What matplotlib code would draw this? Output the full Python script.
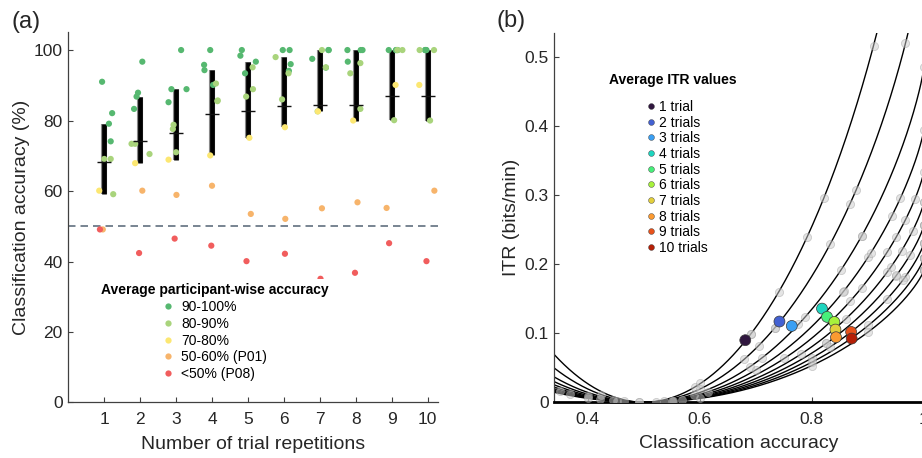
import numpy as np
import matplotlib
matplotlib.use('Agg')
import matplotlib.pyplot as plt
from matplotlib.lines import Line2D

plt.rcParams['font.family'] = ['Liberation Sans', 'DejaVu Sans']

# ---------------- data: panel (a) ----------------
trials = np.arange(1, 11)
group_labels = ['90-100%', '80-90%', '70-80%', '50-60% (P01)', '<50% (P08)']
group_colors = ['#56b870', '#a9d47c', '#fce772', '#f7b46b', '#f15d5d']
# participant order: G1..G4 (90-100), L1..L3 (80-90), Y (70-80), P01, P08
participant_group = [0, 0, 0, 0, 1, 1, 1, 2, 3, 4]

acc_t1 = [91.0, 82.1, 79.1, 74.1, 69.1, 69.1, 59.1, 60.1, 49.1, 49.1]
acc_t2 = [96.7, 87.9, 86.8, 83.3, 73.4, 73.4, 70.5, 67.9, 60.1, 42.4]
acc_t3 = [100, 88.9, 88.9, 85.2, 78.8, 77.6, 71.0, 68.9, 58.9, 46.5]
acc_t4 = [100, 95.8, 94.3, 90.1, 90.5, 85.7, 85.5, 70.1, 61.5, 44.5]
acc_t5 = [100, 98.4, 96.7, 93.4, 95.1, 88.9, 86.8, 75.1, 53.5, 40.1]
acc_t6 = [100, 100, 96.0, 94.1, 98.0, 93.4, 86.0, 78.1, 52.1, 42.2]
acc_t7 = [100, 100, 97.5, 95.0, 100, 95.1, 82.6, 82.6, 55.1, 35.1]
acc_t8 = [100, 100, 100, 96.7, 96.3, 93.4, 83.3, 80.0, 56.8, 36.8]
acc_t9 = [100, 100, 100, 100, 100, 100, 80.1, 90.1, 55.2, 45.2]
acc_t10 = [100, 100, 100, 100, 100, 100, 80.0, 90.1, 60.1, 40.1]
acc = [acc_t1, acc_t2, acc_t3, acc_t4, acc_t5, acc_t6, acc_t7, acc_t8, acc_t9, acc_t10]

# horizontal jitter of each dot
jit_t1 = [-0.06, 0.22, 0.13, 0.18, 0.00, 0.18, 0.25, -0.14, -0.04, -0.12]
jit_t2 = [0.06, -0.06, -0.10, -0.17, -0.24, -0.14, 0.26, -0.14, 0.06, -0.03]
jit_t3 = [0.14, -0.13, 0.29, -0.21, -0.07, -0.09, 0.00, -0.21, 0.01, -0.04]
jit_t4 = [-0.05, -0.22, -0.21, 0.03, 0.11, 0.16, 0.15, -0.05, 0.00, -0.02]
jit_t5 = [-0.17, -0.21, 0.22, -0.08, 0.13, 0.14, -0.05, 0.04, 0.08, -0.04]
jit_t6 = [-0.03, 0.16, 0.19, 0.14, -0.23, 0.13, -0.05, 0.03, 0.04, 0.03]
jit_t7 = [0.25, 0.24, -0.21, 0.17, 0.06, 0.17, -0.06, -0.05, 0.06, 0.02]
jit_t8 = [-0.23, 0.14, 0.19, -0.22, 0.13, -0.15, 0.13, -0.07, 0.05, -0.02]
jit_t9 = [-0.08, 0.12, 0.17, 0.13, 0.30, 0.16, 0.07, 0.11, -0.14, -0.07]
jit_t10 = [-0.07, -0.05, -0.03, -0.06, -0.22, 0.18, 0.07, -0.23, 0.19, -0.03]
jit = [jit_t1, jit_t2, jit_t3, jit_t4, jit_t5, jit_t6, jit_t7, jit_t8, jit_t9, jit_t10]

chance_level = 50

# ---------------- data: panel (b) ----------------
itr_labels = ['1 trial', '2 trials', '3 trials', '4 trials', '5 trials',
              '6 trials', '7 trials', '8 trials', '9 trials', '10 trials']
itr_colors = ['#30173f', '#4361d2', '#3a9ff3', '#1ed5bf', '#47ef7a',
              '#a7f23c', '#e3cf3c', '#fb9a31', '#e8521b', '#b51f06']
avg_acc = [0.681, 0.742, 0.764, 0.818, 0.827, 0.840, 0.842, 0.843, 0.870, 0.871]
avg_itr = [0.0899, 0.1170, 0.1106, 0.1357, 0.1237, 0.1164, 0.1053, 0.0942, 0.1019, 0.0923]
trial_minutes = [1.09, 1.52, 2.06, 2.53, 2.99, 3.45, 3.90, 4.34, 4.79, 5.23]


def bits_per_selection(p):
    p = np.clip(np.asarray(p, dtype=float), 1e-12, 1 - 1e-12)
    return 1 + p * np.log2(p) + (1 - p) * np.log2(1 - p)


# ---------------- figure ----------------
fig = plt.figure(figsize=(9.22, 4.58), dpi=100)
ax1 = fig.add_axes([0.0741, 0.1212, 0.4013, 0.808])
ax2 = fig.add_axes([0.6012, 0.1218, 0.4009, 0.8057])

axis_col = '#404040'
text_col = '#262626'

# ---- panel (a)
ax1.axhline(chance_level, color='#61707f', lw=1.2, ls=(0, (4.5, 3)), zorder=1)
for i, t in enumerate(trials):
    vals = np.array(acc[i])
    lo, hi = np.percentile(vals, [25, 75], method='hazen')
    ax1.plot([t, t], [lo, hi], color='#8a8a8a', lw=4.4, solid_capstyle='butt', zorder=2)
    ax1.plot([t, t], [lo, hi], color='black', lw=3.4, solid_capstyle='butt', zorder=2.1)
for g in range(len(group_labels)):
    for i, t in enumerate(trials):
        idx = [k for k in range(len(participant_group)) if participant_group[k] == g]
        xs = [t + jit[i][k] for k in idx]
        ys = [acc[i][k] for k in idx]
        ax1.scatter(xs, ys, s=20, color=group_colors[g], edgecolors='none', zorder=3)
means = [np.mean(a) for a in acc]
ax1.plot(trials, means, ls='none', marker='_', markersize=10, mew=1.0, color='#111111', zorder=4)

ax1.set_xlim(0, 10.3)
ax1.set_ylim(0, 105)
ax1.set_xticks(trials)
ax1.set_yticks([0, 20, 40, 60, 80, 100])
ax1.spines['top'].set_visible(False)
ax1.spines['right'].set_visible(False)
for s in ['left', 'bottom']:
    ax1.spines[s].set_color(axis_col)
    ax1.spines[s].set_linewidth(0.9)
ax1.tick_params(direction='in', length=3.5, width=0.8, color=axis_col,
                labelsize=12.5, labelcolor=text_col)
ax1.tick_params(axis='x', pad=7)
ax1.tick_params(axis='y', pad=4)
ax1.set_xlabel('Number of trial repetitions', fontsize=14, color=text_col, labelpad=6)
ax1.set_ylabel('Classification accuracy (%)', fontsize=14, color=text_col, labelpad=3)

handles1 = [Line2D([], [], ls='none', marker='o', markersize=4.5, color=c, mec='none')
            for c in group_colors]
leg1 = ax1.legend(handles1, group_labels, title='Average participant-wise accuracy',
                  loc='center', bbox_to_anchor=(0.396, 0.19), fontsize=10,
                  title_fontsize=10, frameon=True, facecolor='white', edgecolor='none',
                  framealpha=1.0, handlelength=0.8, handletextpad=0.55,
                  labelspacing=0.2, borderpad=0.3, alignment='center')
leg1.get_title().set_fontweight('bold')
leg1.set_zorder(10)

# ---- panel (b)
xx = np.linspace(0.34, 1.0, 600)
for tm in trial_minutes:
    ax2.plot(xx, bits_per_selection(xx) / tm, color='black', lw=1.0, zorder=2)
for i, tm in enumerate(trial_minutes):
    p = np.array(acc[i]) / 100.0
    ax2.scatter(p, bits_per_selection(p) / tm, s=34, facecolor='#cccccc',
                edgecolor='#a0a0a0', linewidths=0.6, alpha=0.5, zorder=3)
ax2.scatter(avg_acc, avg_itr, s=62, c=itr_colors, edgecolors='#3a3a3a',
            linewidths=0.5, zorder=5)

ax2.set_xlim(0.34, 1.0)
ax2.set_ylim(0, 0.535)
ax2.set_xticks([0.4, 0.6, 0.8, 1.0])
ax2.set_xticklabels(['0.4', '0.6', '0.8', '1'])
ax2.set_yticks([0, 0.1, 0.2, 0.3, 0.4, 0.5])
ax2.set_yticklabels(['0', '0.1', '0.2', '0.3', '0.4', '0.5'])
ax2.spines['top'].set_visible(False)
ax2.spines['right'].set_visible(False)
ax2.spines['left'].set_color(axis_col)
ax2.spines['left'].set_linewidth(0.9)
ax2.spines['bottom'].set_color('black')
ax2.spines['bottom'].set_linewidth(2.0)
ax2.tick_params(direction='in', length=3.5, width=0.8, color=axis_col,
                labelsize=12.5, labelcolor=text_col)
ax2.tick_params(axis='x', pad=7)
ax2.tick_params(axis='y', pad=4)
ax2.set_xlabel('Classification accuracy', fontsize=14, color=text_col, labelpad=6)
ax2.set_ylabel('ITR (bits/min)', fontsize=14, color=text_col, labelpad=3)

handles2 = [Line2D([], [], ls='none', marker='o', markersize=4.2, color=c,
                   mec='#3a3a3a', mew=0.3) for c in itr_colors]
leg2 = ax2.legend(handles2, itr_labels, loc='center', bbox_to_anchor=(0.332, 0.609),
                  fontsize=10, frameon=False, handlelength=0.6, handletextpad=0.3,
                  labelspacing=0.12, borderpad=0.2)
ax2.text(0.320, 0.873, 'Average ITR values', transform=ax2.transAxes, fontsize=10,
         fontweight='bold', ha='center', va='center', color='black')

fig.text(0.013, 0.953, '(a)', fontsize=17, ha='left', va='center', color=text_col)
fig.text(0.539, 0.955, '(b)', fontsize=17, ha='left', va='center', color=text_col)

fig.savefig('out.png', dpi=100)
